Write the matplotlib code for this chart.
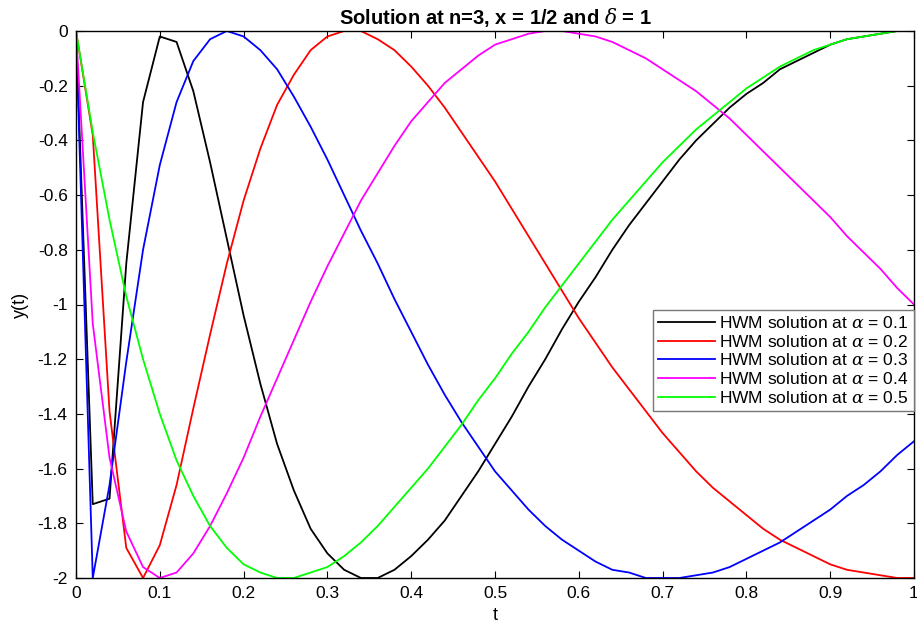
import numpy as np
import matplotlib
matplotlib.use("Agg")
import matplotlib.pyplot as plt

plt.rcParams['font.family'] = ['Liberation Sans', 'DejaVu Sans']
plt.rcParams['axes.unicode_minus'] = False
plt.rcParams['mathtext.fontset'] = 'dejavuserif'

# time grid (step 0.02)
t = [round(0.02 * i, 2) for i in range(51)]

y_a01 = [0.00, -1.73, -1.71, -0.85, -0.26, -0.02, -0.04, -0.22, -0.48, -0.76,
         -1.04, -1.29, -1.51, -1.68, -1.82, -1.91, -1.97, -2.00, -2.00, -1.97,
         -1.92, -1.86, -1.79, -1.70, -1.61, -1.51, -1.41, -1.30, -1.20, -1.09,
         -0.99, -0.90, -0.80, -0.71, -0.63, -0.55, -0.47, -0.40, -0.34, -0.28,
         -0.23, -0.19, -0.14, -0.11, -0.08, -0.05, -0.03, -0.02, -0.01, -0.00,
         0.00]

y_a02 = [0.00, -0.38, -1.39, -1.89, -2.00, -1.88, -1.66, -1.38, -1.11, -0.85,
         -0.62, -0.43, -0.27, -0.16, -0.07, -0.02, -0.00, -0.00, -0.03, -0.07,
         -0.13, -0.20, -0.28, -0.37, -0.46, -0.55, -0.65, -0.75, -0.85, -0.95,
         -1.05, -1.14, -1.23, -1.31, -1.39, -1.47, -1.54, -1.61, -1.67, -1.72,
         -1.77, -1.82, -1.86, -1.89, -1.92, -1.95, -1.97, -1.98, -1.99, -2.00,
         -2.00]

y_a03 = [0.00, -2.00, -1.66, -1.21, -0.80, -0.49, -0.26, -0.11, -0.03, -0.00,
         -0.02, -0.07, -0.14, -0.24, -0.35, -0.47, -0.60, -0.73, -0.85, -0.98,
         -1.10, -1.22, -1.33, -1.43, -1.52, -1.61, -1.68, -1.75, -1.81, -1.86,
         -1.90, -1.94, -1.97, -1.98, -2.00, -2.00, -2.00, -1.99, -1.98, -1.96,
         -1.93, -1.90, -1.87, -1.83, -1.79, -1.75, -1.70, -1.66, -1.61, -1.55,
         -1.50]

y_a04 = [0.00, -1.07, -1.56, -1.83, -1.96, -2.00, -1.98, -1.91, -1.81, -1.69,
         -1.56, -1.41, -1.27, -1.13, -0.99, -0.86, -0.74, -0.62, -0.52, -0.42,
         -0.33, -0.26, -0.19, -0.14, -0.09, -0.05, -0.03, -0.01, -0.00, -0.00,
         -0.01, -0.02, -0.04, -0.07, -0.10, -0.14, -0.18, -0.22, -0.27, -0.32,
         -0.38, -0.44, -0.50, -0.56, -0.62, -0.68, -0.75, -0.81, -0.87, -0.94,
         -1.00]

y_a05 = [0.00, -0.37, -0.69, -0.97, -1.20, -1.40, -1.57, -1.70, -1.81, -1.89,
         -1.95, -1.98, -2.00, -2.00, -1.98, -1.96, -1.92, -1.87, -1.81, -1.74,
         -1.67, -1.60, -1.52, -1.44, -1.35, -1.27, -1.18, -1.10, -1.01, -0.93,
         -0.85, -0.77, -0.69, -0.62, -0.55, -0.48, -0.42, -0.36, -0.31, -0.26,
         -0.21, -0.17, -0.13, -0.10, -0.07, -0.05, -0.03, -0.02, -0.01, -0.00,
         0.00]

series = [y_a01, y_a02, y_a03, y_a04, y_a05]
labels = [r'HWM solution at $\alpha$ = 0.1', r'HWM solution at $\alpha$ = 0.2',
          r'HWM solution at $\alpha$ = 0.3', r'HWM solution at $\alpha$ = 0.4',
          r'HWM solution at $\alpha$ = 0.5']
colors = ['#000000', '#ff0000', '#0000ff', '#ff00ff', '#00ff00']

xticks = [0, 0.1, 0.2, 0.3, 0.4, 0.5, 0.6, 0.7, 0.8, 0.9, 1]
xticklabels = ['0', '0.1', '0.2', '0.3', '0.4', '0.5', '0.6', '0.7', '0.8', '0.9', '1']
yticks = [0, -0.2, -0.4, -0.6, -0.8, -1, -1.2, -1.4, -1.6, -1.8, -2]
yticklabels = ['0', '-0.2', '-0.4', '-0.6', '-0.8', '-1', '-1.2', '-1.4', '-1.6', '-1.8', '-2']

fig = plt.figure(figsize=(9.17, 6.32), dpi=100)
ax = fig.add_axes([76 / 917, 54 / 632, 838 / 917, 547 / 632])

for y, c, lab in zip(series, colors, labels):
    ax.plot(t, y, color=c, lw=1.3, label=lab)

ax.set_xlim(0, 1)
ax.set_ylim(-2, 0)
ax.set_xticks(xticks)
ax.set_xticklabels(xticklabels)
ax.set_yticks(yticks)
ax.set_yticklabels(yticklabels)
ax.tick_params(direction='in', length=5, width=0.8, labelsize=12.5,
               top=True, right=True, pad=6)
for sp in ax.spines.values():
    sp.set_linewidth(1.0)

ax.set_xlabel('t', fontsize=13, labelpad=4)
ax.set_ylabel('y(t)', fontsize=13, labelpad=6)
ax.set_title(r'Solution at n=3, x = 1/2 and $\delta$ = 1', fontsize=14.5,
             fontweight='bold', pad=5)

leg = ax.legend(loc='upper right', bbox_to_anchor=(1.0, 0.49), borderaxespad=0,
                fontsize=12.5, handlelength=3.3, handletextpad=0.25,
                labelspacing=0.15, borderpad=0.3, fancybox=False, framealpha=1)
leg.get_frame().set_edgecolor('#777777')
leg.get_frame().set_linewidth(1.0)

fig.savefig('out.png', dpi=100)
